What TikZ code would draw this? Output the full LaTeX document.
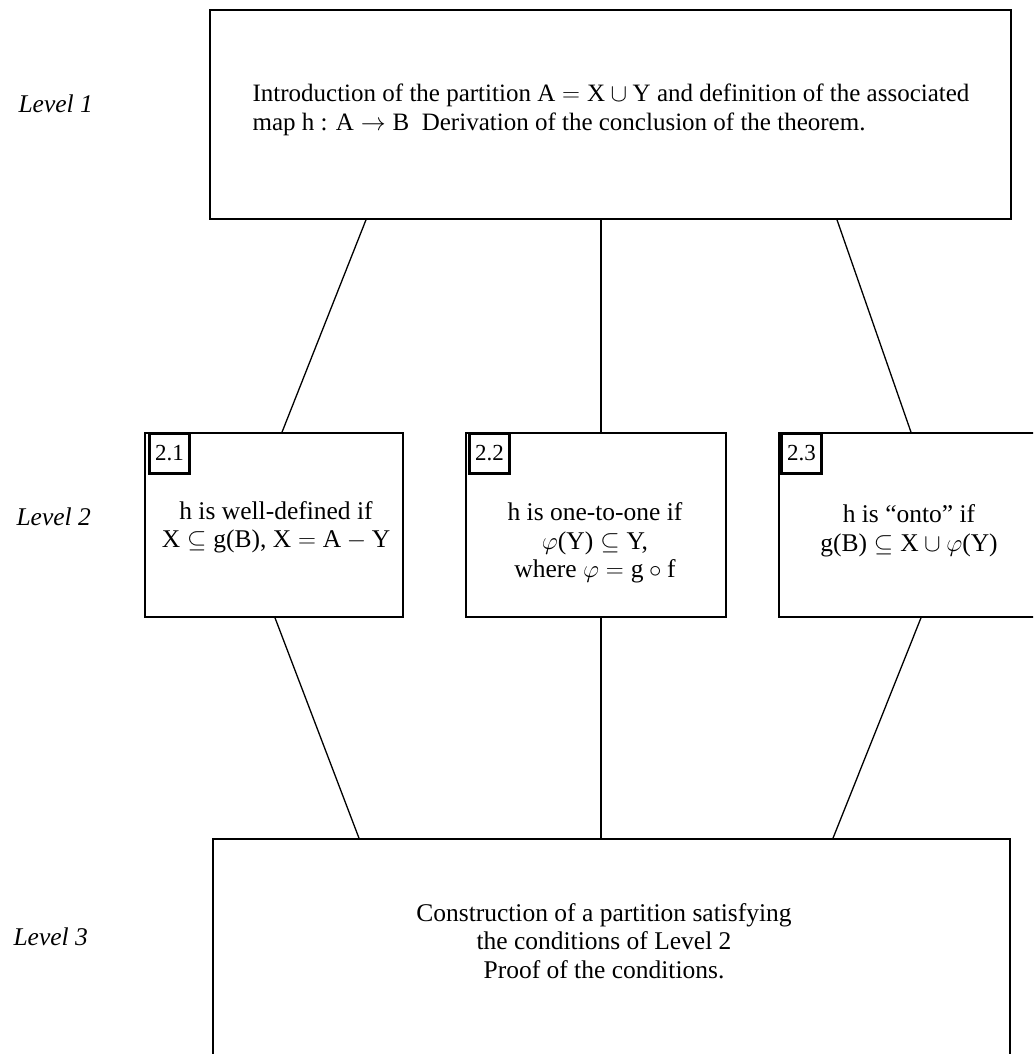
\documentclass[tikz,border=0pt]{standalone}
\usepackage{fontspec}
\setmainfont{Liberation Serif}
\begin{document}
\begin{tikzpicture}[x=1pt, y=-1pt,
    box/.style={draw, line width=1.6pt, inner sep=0pt},
    tag/.style={draw, line width=2.4pt, minimum width=40pt, minimum height=40pt,
      inner sep=0pt, anchor=north west, font=\fontsize{23}{27}\selectfont},
    txt/.style={align=center, font=\fontsize{25.5}{28.5}\selectfont},
    level/.style={anchor=west, font=\fontsize{25.5}{28}\selectfont\itshape},
    link/.style={line width=1.3pt}]
  \useasboundingbox (0,0) rectangle (1033,1054);
  \clip (0,0) rectangle (1033,1054);

  % Level labels
  \node [level] (l1) at (15,104) {Level 1};
  \node [level] (l2) at (13,517) {Level 2};
  \node [level] (l3) at (10,937) {Level 3};

  % Level 1
  \node [box, minimum width=801pt, minimum height=209pt] (top) at (610.5,114.5) {};
  \node [txt, align=left, font=\fontsize{25}{29}\selectfont] (ttop) at (611,110)
    {Introduction of the partition A${}={}$X${}\cup{}$Y and definition of the associated\\
     map h : A${}\rightarrow{}$B\ \ Derivation of the conclusion of the theorem.};

  % Level 2
  \node [box, minimum width=258pt, minimum height=184pt] (b21) at (274,525) {};
  \node [box, minimum width=260pt, minimum height=184pt] (b22) at (596,525) {};
  \node [box, minimum width=260pt, minimum height=184pt] (b23) at (909,525) {};

  \node [tag] (n21) at ([xshift=4pt]b21.north west) {2.1};
  \node [tag] (n22) at ([xshift=3pt]b22.north west) {2.2};
  \node [tag] (n23) at ([xshift=2pt]b23.north west) {2.3};

  \node [txt] (t21) at (276,527.5)
    {h is well-defined if\\ X${}\subseteq{}$g(B), X${}={}$A${}-{}$Y};
  \node [txt] (t22) at (595,543)
    {h is one-to-one if\\ $\varphi$(Y)${}\subseteq{}$Y,\\ where $\varphi={}$g${}\circ{}$f};
  \node [txt] (t23) at (909,531)
    {h is ``onto'' if\\ g(B)${}\subseteq{}$X${}\cup\varphi$(Y)};

  % Level 3
  \node [box, minimum width=797pt, minimum height=260pt] (bot) at (611.5,969) {};
  \node [txt] (tbot) at (604,941)
    {Construction of a partition satisfying\\ the conditions of Level 2\\ Proof of the conditions.};

  % Links between levels
  \draw [link] ([xshift=-244.5pt]top.south) -- ([xshift=8pt]b21.north);
  \draw [link] ([xshift=-9.5pt]top.south) -- ([xshift=5pt]b22.north);
  \draw [link] ([xshift=226.5pt]top.south) -- ([xshift=2pt]b23.north);

  \draw [link] ([xshift=1pt]b21.south) -- ([xshift=-252.5pt]bot.north);
  \draw [link] ([xshift=5pt]b22.south) -- ([xshift=-10.5pt]bot.north);
  \draw [link] ([xshift=12pt]b23.south) -- ([xshift=221.5pt]bot.north);
\end{tikzpicture}
\end{document}
